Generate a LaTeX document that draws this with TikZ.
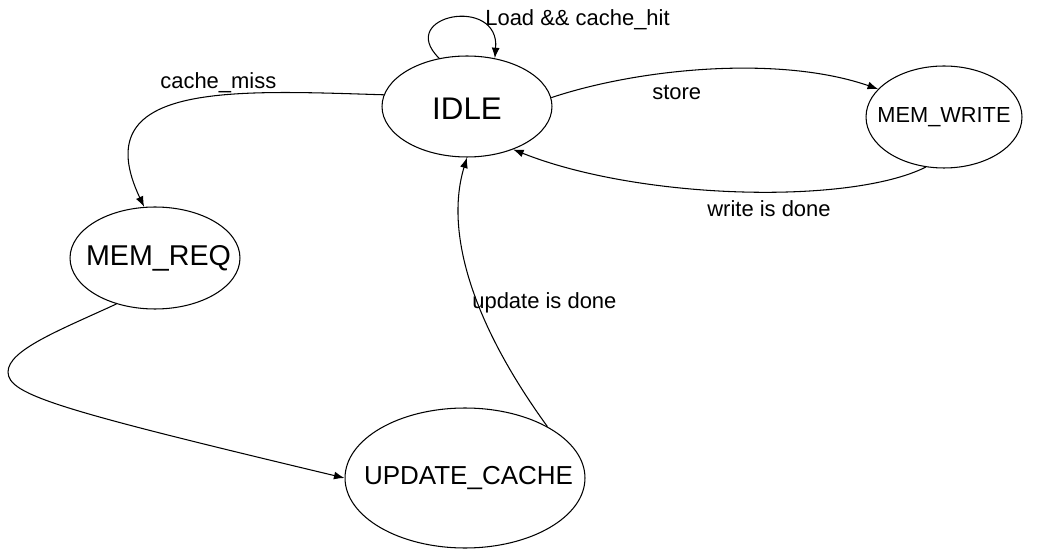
\documentclass[tikz,border=0pt]{standalone}
\usepackage{fontspec}
\setmainfont{Liberation Sans}
\usetikzlibrary{arrows.meta, shapes.geometric}

\tikzset{
  state/.style={draw, ellipse, line width=0.6pt, inner sep=0pt},
  trans/.style={-{Latex[length=6pt,width=4.5pt]}, line width=0.6pt},
  lbl/.style={font=\fontsize{12.5}{14}\selectfont, inner sep=0pt, anchor=base west},
}

\begin{document}
\begin{tikzpicture}[x=0.02cm, y=-0.02cm]
  \useasboundingbox (0,0) rectangle (1061,550);

  % States
  \node[state, minimum width=3.4cm, minimum height=2.02cm,
        label={[font=\fontsize{17.8}{20}\selectfont, yshift=-1.5pt]center:IDLE}] (idle) at (467,106.5) {};
  \node[state, minimum width=3.12cm, minimum height=2.04cm,
        label={[font=\fontsize{12.4}{14}\selectfont]center:MEM\_WRITE}] (memwrite) at (944,117) {};
  \node[state, minimum width=3.4cm, minimum height=2.04cm,
        label={[font=\fontsize{16.3}{18}\selectfont, xshift=2pt]center:MEM\_REQ}] (memreq) at (155,258) {};
  \node[state, minimum width=4.8cm, minimum height=2.8cm,
        label={[font=\fontsize{14.8}{17}\selectfont, xshift=2pt]center:UPDATE\_CACHE}] (update) at (465,478) {};

  % Transitions
  \draw[trans] (idle.120) .. controls (395,15) and (500,-5) .. (idle.60);
  \draw[trans] (idle.172) .. controls (230,90) and (85,82) .. (memreq.102);
  \draw[trans] (idle.6) .. controls (640,68) and (780,55) .. (memwrite.157);
  \draw[trans] (memwrite.-110) .. controls (850,205) and (640,200) .. (idle.-43);
  \draw[trans] (memreq.-130) .. controls (60,330) and (8,350) .. (8,372)
                             .. controls (8,395) and (60,410) .. (update.180);
  \draw[trans] (update.32) .. controls (470,320) and (445,230) .. (idle.-90);

  % Labels
  \node[lbl] (lhit) at (485,26) {Load \&\& cache\_hit};
  \node[lbl] (lmiss) at (160,89) {cache\_miss};
  \node[lbl] (lstore) at (652,100) {store};
  \node[lbl] (lwrite) at (707,217) {write is done};
  \node[lbl] (lupdate) at (472,309) {update is done};
\end{tikzpicture}
\end{document}
